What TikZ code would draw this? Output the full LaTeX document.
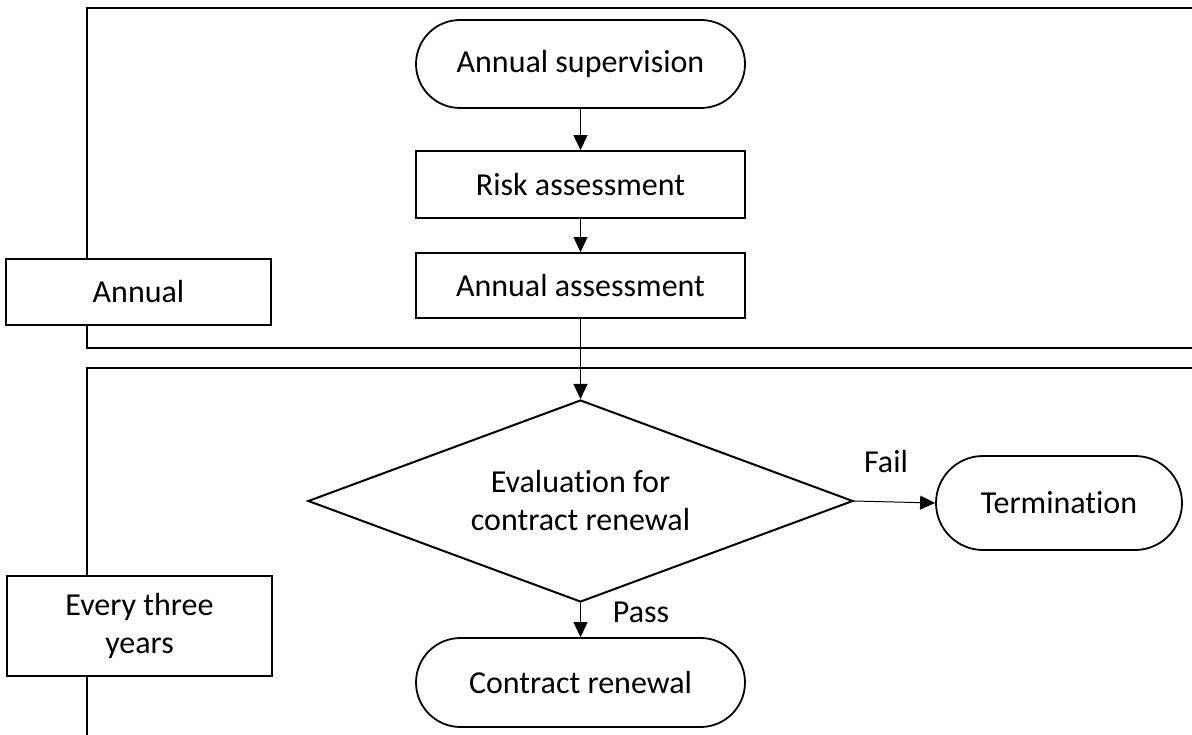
\documentclass[tikz,border=0pt]{standalone}
\usepackage{fontspec}
\setmainfont{Carlito}[Ligatures={NoCommon}]
\usetikzlibrary{shapes.geometric,shapes.misc,arrows.meta}
\begin{document}
\begin{tikzpicture}[x=1pt,y=-1pt,
  every node/.style={font=\fontsize{32}{38}\selectfont, inner sep=0pt, align=center},
  frameline/.style={draw=black, line width=1.8pt},
  procbox/.style={draw=black, fill=white, line width=1.8pt, rectangle},
  termbox/.style={draw=black, fill=white, line width=1.8pt, rounded rectangle},
  decbox/.style={draw=black, fill=white, line width=2pt, diamond, aspect=2.7},
  flow/.style={draw=black, line width=1pt, -{Triangle[length=15pt,width=14pt]}},
  lbl/.style={}
]
\useasboundingbox (0,0) rectangle (1192,735);
% swimlane frames
\draw[frameline] (1193,8) -- (87,8) -- (87,348) -- (1193,348);
\draw[frameline] (1193,368) -- (87,368) -- (87,736);
% lane labels
\node[procbox, minimum width=265pt, minimum height=66pt] (annual) at (138.5,292) {Annual};
\node[procbox, minimum width=265pt, minimum height=100pt] (three) at (139.5,626) {Every three\\years};
% flow nodes
\node[termbox, minimum width=329pt, minimum height=88pt] (sup) at (580.5,64) {Annual supervision};
\node[procbox, minimum width=329pt, minimum height=67pt] (risk) at (580.5,184.5) {Risk assessment};
\node[procbox, minimum width=329pt, minimum height=65pt] (annass) at (580.5,285.5) {Annual assessment};
\node[decbox, minimum width=545pt, minimum height=202pt] (eval) at (580.5,501) {Evaluation for\\contract renewal};
\node[termbox, minimum width=246pt, minimum height=94pt] (term) at (1059,503) {Termination};
\node[termbox, minimum width=329pt, minimum height=89pt] (renew) at (580.5,682.5) {Contract renewal};
% edge labels
\node[lbl] (fail) at (886,462) {Fail};
\node[lbl] (pass) at (641,612) {Pass};
% connectors
\draw[flow] (sup.south) -- (risk.north);
\draw[flow] (risk.south) -- (annass.north);
\draw[flow] (annass.south) -- (eval.north);
\draw[flow] (eval.east) -- (term.west);
\draw[flow] (eval.south) -- (renew.north);
\end{tikzpicture}
\end{document}
